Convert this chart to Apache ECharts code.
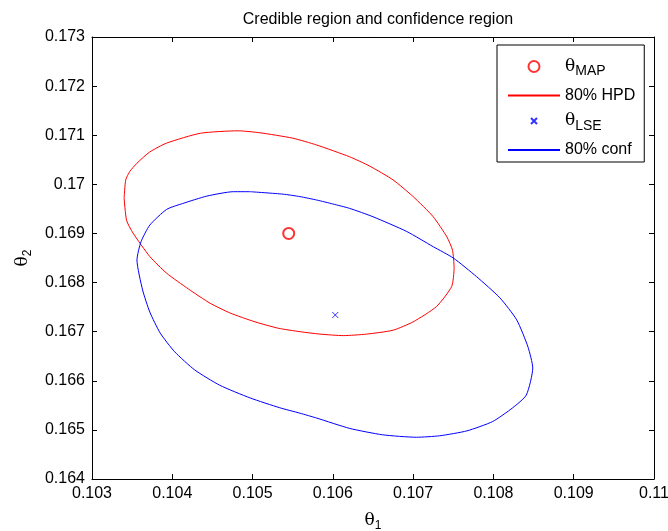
<!DOCTYPE html>
<html>
<head>
<meta charset="utf-8">
<script src="https://cdn.jsdelivr.net/npm/echarts@6/dist/echarts.min.js"></script>
<style>
html,body{margin:0;padding:0;background:#fff;}
#c{width:668px;height:531px;}
</style>
</head>
<body>
<div id="c"></div>
<script>
// ---- data ----
var titleText = 'Credible region and confidence region';
var xTickLabels = ['0.103','0.104','0.105','0.106','0.107','0.108','0.109','0.11'];
var yTickLabels = ['0.164','0.165','0.166','0.167','0.168','0.169','0.17','0.171','0.172','0.173'];
var xMin = 0.103, xMax = 0.11, xStep = 0.001;
var yMin = 0.164, yMax = 0.173, yStep = 0.001;

var mapX = [0.10545];
var mapY = [0.16900];
var lseX = [0.10603];
var lseY = [0.16734];

var hpdX = [0.10340, 0.10342, 0.10347, 0.10356, 0.10372, 0.10393, 0.10435, 0.10482, 0.10509, 0.10550,
            0.10580, 0.10621, 0.10646, 0.10675, 0.10700, 0.10725, 0.10742, 0.10749, 0.10751, 0.10748,
            0.10729, 0.10700, 0.10675, 0.10642, 0.10613, 0.10584, 0.10559, 0.10532, 0.10503, 0.10472,
            0.10447, 0.10420, 0.10393, 0.10372, 0.10351, 0.10343, 0.10340];
var hpdY = [0.16972, 0.17009, 0.17026, 0.17043, 0.17066, 0.17084, 0.17104, 0.17109, 0.17105, 0.17094,
            0.17080, 0.17056, 0.17037, 0.17009, 0.16975, 0.16934, 0.16893, 0.16866, 0.16830, 0.16792,
            0.16751, 0.16720, 0.16703, 0.16695, 0.16692, 0.16695, 0.16700, 0.16707, 0.16720, 0.16738,
            0.16758, 0.16787, 0.16819, 0.16853, 0.16901, 0.16927, 0.16972];

var confX = [0.10497, 0.10538, 0.10559, 0.10580, 0.10600, 0.10621, 0.10650, 0.10692, 0.10725, 0.10750,
             0.10779, 0.10808, 0.10829, 0.10843, 0.10849, 0.10841, 0.10824, 0.10799, 0.10767, 0.10733,
             0.10704, 0.10662, 0.10621, 0.10580, 0.10559, 0.10534, 0.10497, 0.10459, 0.10428, 0.10403,
             0.10385, 0.10372, 0.10363, 0.10356, 0.10361, 0.10372, 0.10393, 0.10413, 0.10443, 0.10476,
             0.10497];
var confY = [0.16985, 0.16980, 0.16975, 0.16968, 0.16960, 0.16951, 0.16934, 0.16904, 0.16873, 0.16850,
             0.16812, 0.16769, 0.16724, 0.16669, 0.16626, 0.16571, 0.16545, 0.16517, 0.16498, 0.16488,
             0.16485, 0.16490, 0.16503, 0.16524, 0.16534, 0.16545, 0.16565, 0.16591, 0.16622, 0.16659,
             0.16697, 0.16740, 0.16785, 0.16846, 0.16883, 0.16917, 0.16949, 0.16961, 0.16976, 0.16985,
             0.16985];

var names = ['θMAP', '80% HPD', 'θLSE', '80% conf'];

// ---- build ----
function zip(a, b) { return a.map(function (v, i) { return [v, b[i]]; }); }
var sans = 'Liberation Sans, Arial, Helvetica, sans-serif';
var serif = 'DejaVu Serif, Liberation Serif, serif';

function xLabel(v) { var i = Math.round((v - xMin) / xStep); return xTickLabels[i] || ''; }
function yLabel(v) { var i = Math.round((v - yMin) / yStep); return yTickLabels[i] || ''; }

var crossPath = 'path://M-2.5,-2.5M8.5,8.5M0,0L6,6M6,0L0,6';

var baseAxis = {
  type: 'value',
  splitLine: { show: false },
  axisLine: { show: true, onZero: false, lineStyle: { color: '#000', width: 1 } },
  axisTick: { show: true, inside: true, length: 5, lineStyle: { color: '#000', width: 1 } }
};

var chart = echarts.init(document.getElementById('c'), null, { renderer: 'canvas' });
chart.setOption({
  animation: false,
  backgroundColor: '#fff',
  title: {
    text: titleText,
    left: 373, top: 7, textAlign: 'center',
    textStyle: { fontFamily: sans, fontSize: 16, fontWeight: 'normal', color: '#000' }
  },
  grid: { left: 92, right: 14, top: 37, bottom: 52, containLabel: false, outerBoundsMode: 'none' },
  xAxis: [
    Object.assign({}, baseAxis, {
      position: 'bottom', min: xMin, max: xMax, interval: xStep,
      name: '{g|θ}{s|1}', nameLocation: 'middle', nameGap: 31,
      nameTextStyle: { color: '#000', rich: {
        g: { fontFamily: serif, fontSize: 17, color: '#000' },
        s: { fontFamily: sans, fontSize: 12, color: '#000', padding: [10, 0, 0, 0] } } },
      axisLabel: { show: true, margin: 7, color: '#000', fontFamily: sans, fontSize: 16, formatter: xLabel }
    }),
    Object.assign({}, baseAxis, {
      position: 'top', min: xMin, max: xMax, interval: xStep,
      axisLabel: { show: false }
    })
  ],
  yAxis: [
    Object.assign({}, baseAxis, {
      position: 'left', min: yMin, max: yMax, interval: yStep,
      name: '{g|θ}{s|2}', nameLocation: 'middle', nameGap: 58, nameRotate: 90,
      nameTextStyle: { color: '#000', rich: {
        g: { fontFamily: serif, fontSize: 17, color: '#000' },
        s: { fontFamily: sans, fontSize: 12, color: '#000', padding: [10, 0, 0, 0] } } },
      axisLabel: { show: true, margin: 7, color: '#000', fontFamily: sans, fontSize: 16, formatter: yLabel }
    }),
    Object.assign({}, baseAxis, {
      position: 'right', min: yMin, max: yMax, interval: yStep,
      axisLabel: { show: false }
    })
  ],
  legend: {
    orient: 'vertical',
    left: 497, top: 45,
    padding: [13, 9, 4, 10],
    itemGap: 9,
    itemWidth: 52, itemHeight: 11,
    borderColor: '#000', borderWidth: 1, backgroundColor: '#fff',
    data: [
      { name: names[0] },
      { name: names[1], itemStyle: { opacity: 0 } },
      { name: names[2] },
      { name: names[3], itemStyle: { opacity: 0 } }
    ],
    formatter: function (n) {
      if (n === 'θMAP') return '{g|θ}{s|MAP}';
      if (n === 'θLSE') return '{g|θ}{s|LSE}';
      return '{t|' + n + '}';
    },
    textStyle: {
      color: '#000', fontFamily: sans, fontSize: 16,
      rich: {
        t: { fontFamily: sans, fontSize: 16, color: '#000', lineHeight: 20 },
        g: { fontFamily: serif, fontSize: 17, color: '#000', lineHeight: 20 },
        s: { fontFamily: sans, fontSize: 14, color: '#000', padding: [10, 0, 0, 0] }
      }
    }
  },
  series: [
    {
      name: names[0], type: 'scatter', xAxisIndex: 0, yAxisIndex: 0,
      data: zip(mapX, mapY), symbol: 'emptyCircle', symbolSize: 11,
      itemStyle: { color: '#ff0000', borderColor: '#ff0000', borderWidth: 1 }, z: 5
    },
    {
      name: names[1], type: 'line', xAxisIndex: 0, yAxisIndex: 0,
      data: zip(hpdX, hpdY), symbol: 'none', smooth: 0.2,
      lineStyle: { color: '#ff0000', width: 1 }, itemStyle: { color: '#ff0000' }
    },
    {
      name: names[2], type: 'scatter', xAxisIndex: 0, yAxisIndex: 0,
      data: zip(lseX, lseY), symbol: crossPath, symbolSize: 11,
      itemStyle: { color: 'rgba(0,0,0,0)', borderColor: '#0000ff', borderWidth: 1 }, z: 5
    },
    {
      name: names[3], type: 'line', xAxisIndex: 0, yAxisIndex: 0,
      data: zip(confX, confY), symbol: 'none', smooth: 0.2,
      lineStyle: { color: '#0000ff', width: 1 }, itemStyle: { color: '#0000ff' }
    }
  ]
});
</script>
</body>
</html>
